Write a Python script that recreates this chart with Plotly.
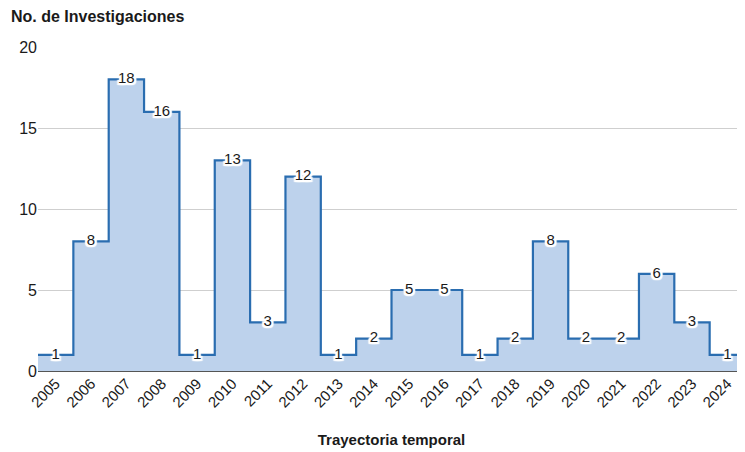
import plotly.graph_objects as go

years = ["2005", "2006", "2007", "2008", "2009", "2010", "2011", "2012", "2013", "2014",
         "2015", "2016", "2017", "2018", "2019", "2020", "2021", "2022", "2023", "2024"]
counts = [1, 8, 18, 16, 1, 13, 3, 12, 1, 2, 5, 5, 1, 2, 8, 2, 2, 6, 3, 1]

idx = list(range(len(years)))
# extend half a step on each side so first/last steps are full width
xs = [idx[0] - 0.5] + idx + [idx[-1] + 0.5]
ys = [counts[0]] + counts + [counts[-1]]

LINE = "#2a6db0"
FILL = "#bdd2ec"
HALO = ", ".join(f"{dx}px {dy}px 1px white" for dx in (-2, -1, 0, 1, 2) for dy in (-2, -1, 0, 1, 2))

fig = go.Figure()
fig.add_trace(go.Scatter(
    x=xs, y=ys, mode="lines", line=dict(shape="hvh", color=LINE, width=2.2),
    fill="tozeroy", fillcolor=FILL, hoverinfo="skip", showlegend=False))
fig.add_trace(go.Scatter(
    x=idx, y=counts, mode="text", text=[str(v) for v in counts],
    textposition="middle center",
    textfont=dict(family="Liberation Sans, Arial", size=15, color="#1a1a1a",
                  shadow=HALO),
    showlegend=False, hoverinfo="skip"))

# page body has an 8px default margin: compensate so the chart fills the 745x452 window
fig.update_layout(
    width=737, height=444,
    margin=dict(l=30, r=0, t=39, b=81),
    paper_bgcolor="white", plot_bgcolor="white",
    font=dict(family="Liberation Sans, Arial", size=14, color="#1a1a1a"),
    xaxis=dict(range=[-0.5, 19.5], tickvals=idx, ticktext=years, tickangle=-45,
               showgrid=False, zeroline=False, showline=False, ticks="",
               automargin=False,
               tickfont=dict(size=15, color="#1a1a1a"),
               title=dict(text="<b>Trayectoria temporal</b>", font=dict(size=15), standoff=24)),
    yaxis=dict(range=[0, 20], tickvals=[0, 5, 10, 15, 20], showgrid=True,
               gridcolor="#cfcfcf", gridwidth=1, zeroline=True, zerolinecolor="#555555",
               zerolinewidth=1.5, showline=False, ticks="", automargin=False,
               tickfont=dict(size=16, color="#1a1a1a")),
    annotations=[dict(text="<b>No. de Investigaciones</b>", xref="paper", yref="paper",
                      x=-29/707, y=1, xanchor="left", yanchor="bottom", yshift=20,
                      showarrow=False, font=dict(size=16, color="#1a1a1a"))],
)

fig.write_html("out.html")
